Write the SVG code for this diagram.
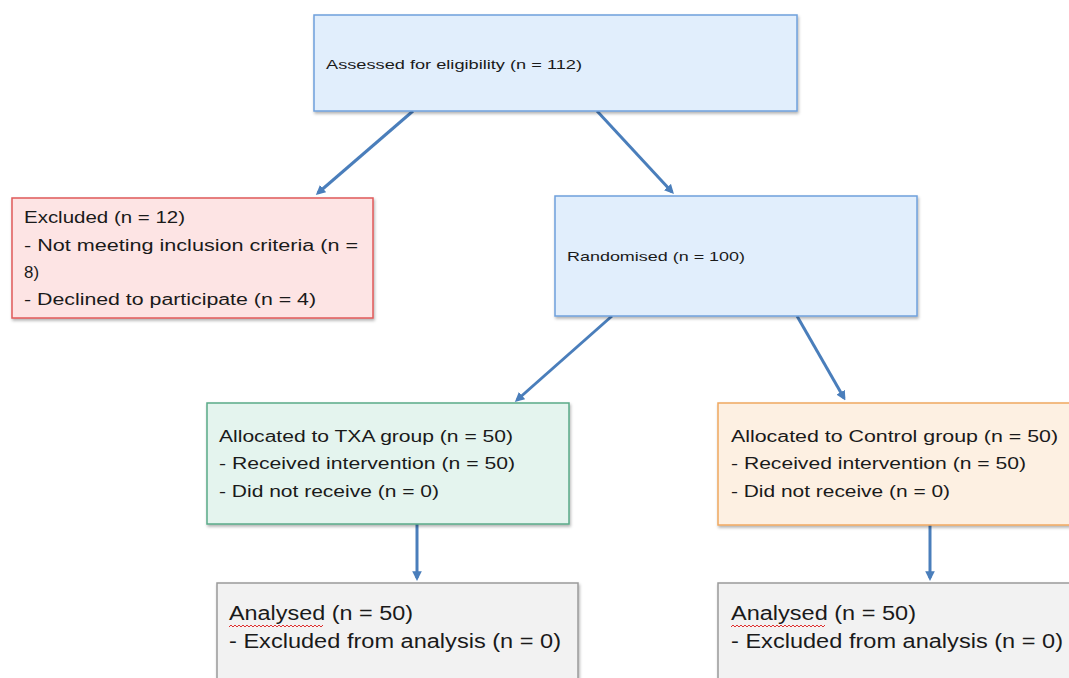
<svg xmlns="http://www.w3.org/2000/svg" width="1069" height="678" viewBox="0 0 1069 678">
<defs>
<style>
.t{font-family:"Liberation Sans",Arial,sans-serif;fill:#1a1a1a}
.s{font-size:13px}
.m{font-size:16px}
.l{font-size:19.5px}
.c{stroke:#4a7ebb;stroke-width:3;fill:none;marker-end:url(#ah)}
.sq{stroke:#e03030;stroke-width:1;fill:none}
</style>
<marker id="ah" viewBox="0 0 10 10" refX="7" refY="5" markerWidth="3.2" markerHeight="3.2" orient="auto" markerUnits="strokeWidth">
<path d="M0,0 L10,5 L0,10 z" fill="#4a7ebb"/>
</marker>
<filter id="sh" x="-5%" y="-5%" width="110%" height="115%">
<feDropShadow dx="1" dy="2" stdDeviation="1.5" flood-color="#000" flood-opacity="0.3"/>
</filter>
</defs>
<rect width="1069" height="678" fill="#fff"/>
<g id="connectors">
<line class="c" x1="413" y1="111" x2="318" y2="193"/>
<line class="c" x1="597" y1="111" x2="672" y2="192"/>
<line class="c" x1="612" y1="316" x2="517" y2="400"/>
<line class="c" x1="797" y1="316" x2="844" y2="398"/>
<line class="c" x1="417" y1="524" x2="417" y2="578"/>
<line class="c" x1="930" y1="525" x2="930" y2="578"/>
</g>
<g id="assessed">
<rect x="314" y="15" width="483" height="96" fill="#e1eefc" stroke="#6fa0dc" stroke-width="1.5" filter="url(#sh)"/>
<text class="t s" x="326" y="69" textLength="256" lengthAdjust="spacingAndGlyphs">Assessed for eligibility (n = 112)</text>
</g>
<g id="excluded">
<rect x="12" y="198" width="361" height="120" fill="#fde4e4" stroke="#e05a5a" stroke-width="1.5" filter="url(#sh)"/>
<text class="t m" x="24" y="223" textLength="161" lengthAdjust="spacingAndGlyphs">Excluded (n = 12)</text>
<text class="t m" x="24" y="251" textLength="334" lengthAdjust="spacingAndGlyphs">- Not meeting inclusion criteria (n =</text>
<text class="t m" x="24" y="278" textLength="15" lengthAdjust="spacingAndGlyphs">8)</text>
<text class="t m" x="24" y="305" textLength="292" lengthAdjust="spacingAndGlyphs">- Declined to participate (n = 4)</text>
</g>
<g id="randomised">
<rect x="555" y="196" width="362" height="120" fill="#e1eefc" stroke="#6fa0dc" stroke-width="1.5" filter="url(#sh)"/>
<text class="t s" x="567" y="261" textLength="178" lengthAdjust="spacingAndGlyphs">Randomised (n = 100)</text>
</g>
<g id="txa">
<rect x="207" y="403" width="362" height="121" fill="#e4f4ee" stroke="#5aaa88" stroke-width="1.5" filter="url(#sh)"/>
<text class="t m" x="219" y="442" textLength="294" lengthAdjust="spacingAndGlyphs">Allocated to TXA group (n = 50)</text>
<text class="t m" x="219" y="469" textLength="296" lengthAdjust="spacingAndGlyphs">- Received intervention (n = 50)</text>
<text class="t m" x="219" y="497" textLength="220" lengthAdjust="spacingAndGlyphs">- Did not receive (n = 0)</text>
</g>
<g id="control">
<rect x="718" y="403" width="362" height="122" fill="#fdf0e2" stroke="#f0a860" stroke-width="1.5" filter="url(#sh)"/>
<text class="t m" x="731" y="442" textLength="327" lengthAdjust="spacingAndGlyphs">Allocated to Control group (n = 50)</text>
<text class="t m" x="731" y="469" textLength="295" lengthAdjust="spacingAndGlyphs">- Received intervention (n = 50)</text>
<text class="t m" x="731" y="497" textLength="219" lengthAdjust="spacingAndGlyphs">- Did not receive (n = 0)</text>
</g>
<g id="analysed-txa">
<rect x="217" y="583" width="361" height="110" fill="#f2f2f2" stroke="#9a9a9a" stroke-width="1.5" filter="url(#sh)"/>
<text class="t l" x="229" y="620" textLength="184" lengthAdjust="spacingAndGlyphs">Analysed (n = 50)</text>
<text class="t l" x="229" y="648" textLength="332" lengthAdjust="spacingAndGlyphs">- Excluded from analysis (n = 0)</text>
<path class="sq" d="M229,627 l2,-2 l2,2 l2,-2 l2,2 l2,-2 l2,2 l2,-2 l2,2 l2,-2 l2,2 l2,-2 l2,2 l2,-2 l2,2 l2,-2 l2,2 l2,-2 l2,2 l2,-2 l2,2 l2,-2 l2,2 l2,-2 l2,2 l2,-2 l2,2 l2,-2 l2,2 l2,-2 l2,2 l2,-2 l2,2 l2,-2 l2,2 l2,-2 l2,2 l2,-2 l2,2 l2,-2 l2,2 l2,-2 l2,2 l2,-2 l2,2 l2,-2 l2,2 l2,-2"/>
</g>
<g id="analysed-control">
<rect x="718" y="583" width="362" height="110" fill="#f2f2f2" stroke="#9a9a9a" stroke-width="1.5" filter="url(#sh)"/>
<text class="t l" x="731" y="620" textLength="185" lengthAdjust="spacingAndGlyphs">Analysed (n = 50)</text>
<text class="t l" x="731" y="648" textLength="332" lengthAdjust="spacingAndGlyphs">- Excluded from analysis (n = 0)</text>
<path class="sq" d="M731,627 l2,-2 l2,2 l2,-2 l2,2 l2,-2 l2,2 l2,-2 l2,2 l2,-2 l2,2 l2,-2 l2,2 l2,-2 l2,2 l2,-2 l2,2 l2,-2 l2,2 l2,-2 l2,2 l2,-2 l2,2 l2,-2 l2,2 l2,-2 l2,2 l2,-2 l2,2 l2,-2 l2,2 l2,-2 l2,2 l2,-2 l2,2 l2,-2 l2,2 l2,-2 l2,2 l2,-2 l2,2 l2,-2 l2,2 l2,-2 l2,2 l2,-2 l2,2 l2,-2"/>
</g>
</svg>
